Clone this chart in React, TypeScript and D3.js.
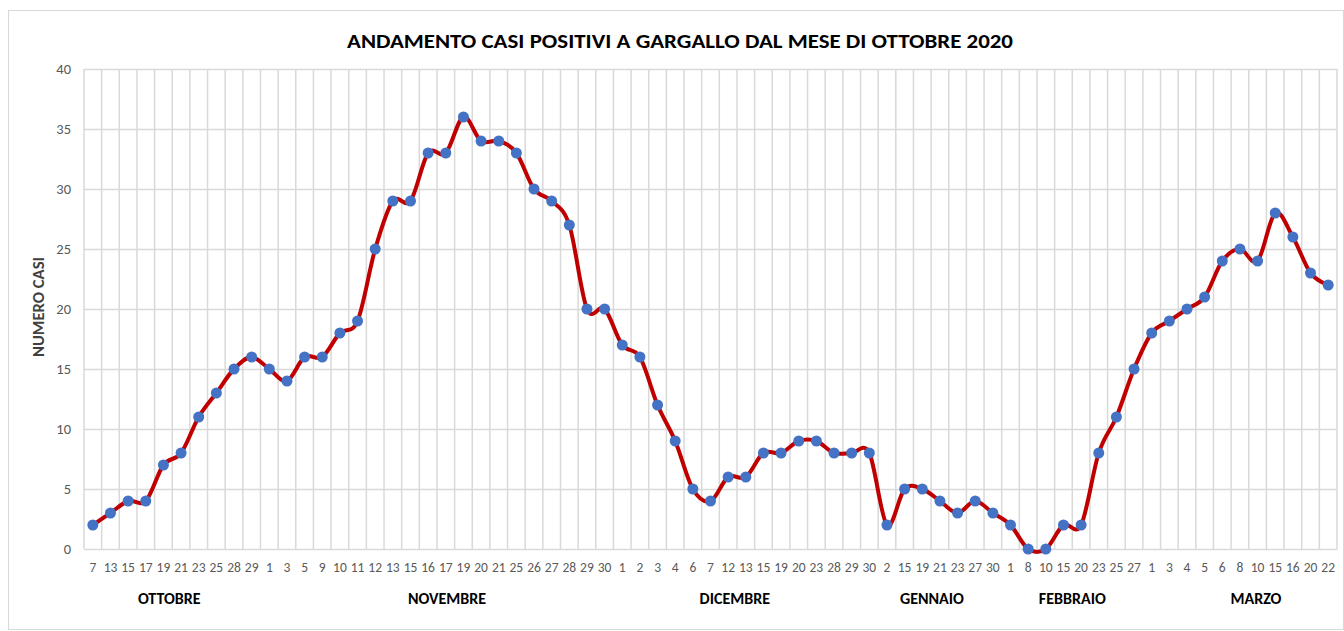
import React, { useEffect, useRef } from 'react';
import * as d3 from 'd3';

// tick labels (days) grouped by month, and the case counts for each day
const months = ['OTTOBRE', 'NOVEMBRE', 'DICEMBRE', 'GENNAIO', 'FEBBRAIO', 'MARZO'];
const ottobreDays = ['7', '13', '15', '17', '19', '21', '23', '25', '28', '29'];
const novembreDays = ['1', '3', '5', '9', '10', '11', '12', '13', '15', '16', '17', '19', '20', '21', '25', '26', '27', '28', '29', '30'];
const dicembreDays = ['1', '2', '3', '4', '6', '7', '12', '13', '15', '19', '20', '23', '28', '29', '30'];
const gennaioDays = ['2', '15', '19', '21', '23', '27', '30'];
const febbraioDays = ['1', '8', '10', '15', '20', '23', '25', '27'];
const marzoDays = ['1', '3', '4', '5', '6', '8', '10', '15', '16', '20', '22'];

const ottobreCasi = [2, 3, 4, 4, 7, 8, 11, 13, 15, 16];
const novembreCasi = [15, 14, 16, 16, 18, 19, 25, 29, 29, 33, 33, 36, 34, 34, 33, 30, 29, 27, 20, 20];
const dicembreCasi = [17, 16, 12, 9, 5, 4, 6, 6, 8, 8, 9, 9, 8, 8, 8];
const gennaioCasi = [2, 5, 5, 4, 3, 4, 3];
const febbraioCasi = [2, 0, 0, 2, 2, 8, 11, 15];
const marzoCasi = [18, 19, 20, 21, 24, 25, 24, 28, 26, 23, 22];

const yTicks = [0, 5, 10, 15, 20, 25, 30, 35, 40];

const dayGroups = [ottobreDays, novembreDays, dicembreDays, gennaioDays, febbraioDays, marzoDays];
const caseGroups = [ottobreCasi, novembreCasi, dicembreCasi, gennaioCasi, febbraioCasi, marzoCasi];

const FONT = 'Carlito, Calibri, "Open Sans", sans-serif';

export default function App() {
  const ref = useRef<SVGSVGElement>(null);

  useEffect(() => {
    const svg = d3.select(ref.current);
    svg.selectAll('*').remove();

    const W = 1344, H = 631;
    const margin = { top: 69, right: 7, bottom: 82, left: 84 };
    const w = W - margin.left - margin.right;
    const h = H - margin.top - margin.bottom;

    // flatten groups into one row per category
    const rows: { key: string; day: string; month: number; v: number }[] = [];
    dayGroups.forEach((days, m) => {
      days.forEach((d, i) => rows.push({ key: m + '-' + i, day: d, month: m, v: caseGroups[m][i] }));
    });

    // chart frame
    svg.append('rect')
      .attr('x', 8.5).attr('y', 10.5)
      .attr('width', W - 9).attr('height', H - 12)
      .attr('fill', 'white').attr('stroke', '#d9d9d9');

    svg.append('text')
      .attr('x', 680).attr('y', 48)
      .attr('text-anchor', 'middle')
      .attr('font-family', FONT).attr('font-weight', 'bold')
      .attr('font-size', 20).attr('fill', '#000')
      .attr('textLength', 666).attr('lengthAdjust', 'spacingAndGlyphs')
      .text('ANDAMENTO CASI POSITIVI A GARGALLO DAL MESE DI OTTOBRE 2020');

    const g = svg.append('g').attr('transform', `translate(${margin.left},${margin.top})`);

    const x = d3.scaleBand().domain(rows.map(r => r.key)).range([0, w]);
    const y = d3.scaleLinear().domain([0, 40]).range([h, 0]);

    // horizontal gridlines
    g.selectAll('.hgrid').data(yTicks).join('line')
      .attr('class', 'hgrid')
      .attr('x1', 0).attr('x2', w)
      .attr('y1', d => Math.round(y(d)) + 0.5).attr('y2', d => Math.round(y(d)) + 0.5)
      .attr('stroke', '#d9d9d9').attr('stroke-width', 1.5);

    // vertical gridlines between categories
    const bounds = rows.map(r => x(r.key) as number).concat([w]);
    g.selectAll('.vgrid').data(bounds).join('line')
      .attr('class', 'vgrid')
      .attr('x1', d => d).attr('x2', d => d)
      .attr('y1', 0).attr('y2', h)
      .attr('stroke', '#d9d9d9').attr('stroke-width', 1.5);

    // y tick labels
    g.selectAll('.ylab').data(yTicks).join('text')
      .attr('class', 'ylab')
      .attr('x', -13).attr('y', d => y(d) + 5)
      .attr('text-anchor', 'end')
      .attr('font-family', FONT).attr('font-size', 14.5).attr('fill', '#595959')
      .text(d => d);

    // x tick labels
    const cx = (k: string) => (x(k) as number) + x.bandwidth() / 2;
    g.selectAll('.xlab').data(rows).join('text')
      .attr('class', 'xlab')
      .attr('x', d => cx(d.key)).attr('y', h + 23)
      .attr('text-anchor', 'middle')
      .attr('font-family', FONT).attr('font-size', 13.5).attr('fill', '#595959')
      .text(d => d.day);

    // month labels
    const monthShift = [-3, 10, -11, -8, 0, 16];
    g.selectAll('.mlab').data(months).join('text')
      .attr('class', 'mlab')
      .attr('x', (d, m) => {
        const grp = rows.filter(r => r.month === m);
        return (cx(grp[0].key) + cx(grp[grp.length - 1].key)) / 2 + monthShift[m];
      })
      .attr('y', h + 55)
      .attr('text-anchor', 'middle')
      .attr('font-family', FONT).attr('font-weight', 'bold')
      .attr('font-size', 16).attr('fill', '#000')
      .text(d => d);

    // y axis title
    svg.append('text')
      .attr('transform', `translate(44, ${307}) rotate(-90)`)
      .attr('text-anchor', 'middle')
      .attr('font-family', FONT).attr('font-weight', 'bold')
      .attr('font-size', 15).attr('fill', '#404040')
      .attr('textLength', 100).attr('lengthAdjust', 'spacingAndGlyphs')
      .text('NUMERO CASI');

    // smoothed line
    const line = d3.line<typeof rows[0]>()
      .x(d => cx(d.key))
      .y(d => y(d.v))
      .curve(d3.curveCatmullRom.alpha(0));

    g.append('path').datum(rows)
      .attr('d', line)
      .attr('fill', 'none')
      .attr('stroke', '#c00000')
      .attr('stroke-width', 4)
      .attr('stroke-linejoin', 'round');

    g.selectAll('.dot').data(rows).join('circle')
      .attr('class', 'dot')
      .attr('cx', d => cx(d.key)).attr('cy', d => y(d.v))
      .attr('r', 5.5)
      .attr('fill', '#4472c4');
  }, []);

  return (
    <svg ref={ref} width={1344} height={631}
      style={{ position: 'absolute', left: 0, top: 0, background: 'white' }} />
  );
}
